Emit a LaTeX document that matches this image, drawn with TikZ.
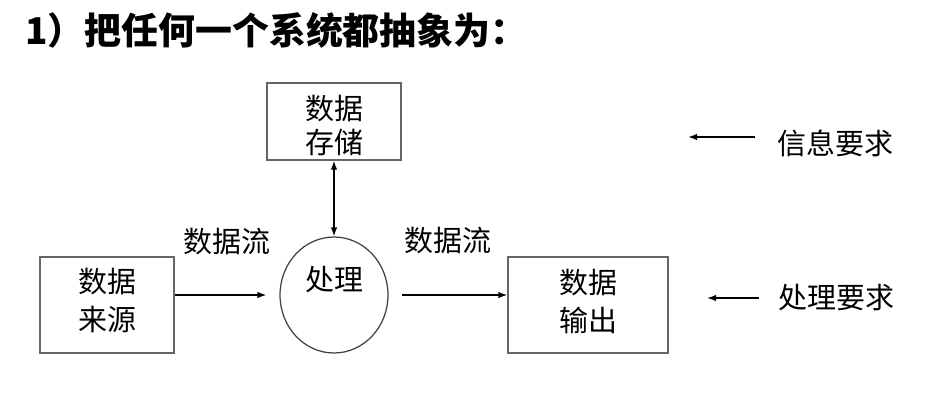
\documentclass[tikz,border=0pt]{standalone}
\usepackage{fontspec}
\setmainfont{Noto Sans CJK SC}
\usepackage{tikz}
\usetikzlibrary{arrows.meta,positioning,shapes.geometric}

\newcommand{\boxtext}[3][0pt]{\raisebox{#1}[\height][\depth]{\begin{tabular}{@{}c@{}}#2\\#3\end{tabular}}}

\begin{document}
\begin{tikzpicture}[
  x=0.02cm, y=-0.02cm,
  >={Latex[length=1.8mm,width=1.3mm]},
  box/.style={draw=black!60, line width=0.8pt, align=center, inner sep=2pt,
    font=\fontsize{16.5pt}{21.6pt}\selectfont},
  procnode/.style={ellipse, draw=black!75, line width=0.7pt, minimum width=2.16cm,
    minimum height=2.32cm, inner sep=0pt, text height=0.5cm, text depth=0.7cm,
    font=\fontsize{16.5pt}{21.6pt}\selectfont},
  arrow/.style={->, line width=0.8pt, draw=black},
  lbl/.style={inner sep=0pt, font=\fontsize{16.5pt}{21.6pt}\selectfont}
]
  \useasboundingbox (0,0) rectangle (929,400);

  % Title
  \node[inner sep=0pt, anchor=west, font=\fontsize{21pt}{24pt}\selectfont\bfseries]
    (title) at (25,30) {1）把任何一个系统都抽象为：};

  % Store, process, source, output
  \node[box, minimum width=2.68cm, minimum height=1.54cm,
    font=\fontsize{16.5pt}{19.5pt}\selectfont] (store) at (334,121.5)
    {\boxtext[-0.16cm]{数据}{存储}};
  \node[procnode] (proc) at (334,295) {处理};
  \node[box, minimum width=2.68cm, minimum height=1.92cm] (src) at (107,305)
    {\boxtext[0.02cm]{数据}{来源}};
  \node[box, minimum width=3.2cm, minimum height=1.92cm] (out) at (588,305)
    {\boxtext[0cm]{数据}{输出}};

  % Data flows
  \draw[arrow, shorten >=0.26cm] (src.east |- proc.west) -- (proc.west)
    node[lbl, midway, above=0.78cm] (flowa) {数据流};
  \draw[arrow, shorten <=0.26cm] (proc.east) -- (proc.east -| out.west)
    node[lbl, midway, above=0.8cm] (flowb) {数据流};
  \draw[<->, line width=0.8pt] (store.south) -- (proc.north);

  % Requirements on the right
  \node[lbl, anchor=west] (info) at (777,143) {信息要求};
  \node[lbl, anchor=west] (need) at (778,298) {处理要求};
  \coordinate (infotip) at (688,137);
  \coordinate (needtip) at (707,298);
  \draw[arrow, shorten <=0.44cm] (info.west |- infotip) -- (infotip);
  \draw[arrow, shorten <=0.38cm] (need.west) -- (needtip);

\end{tikzpicture}
\end{document}
